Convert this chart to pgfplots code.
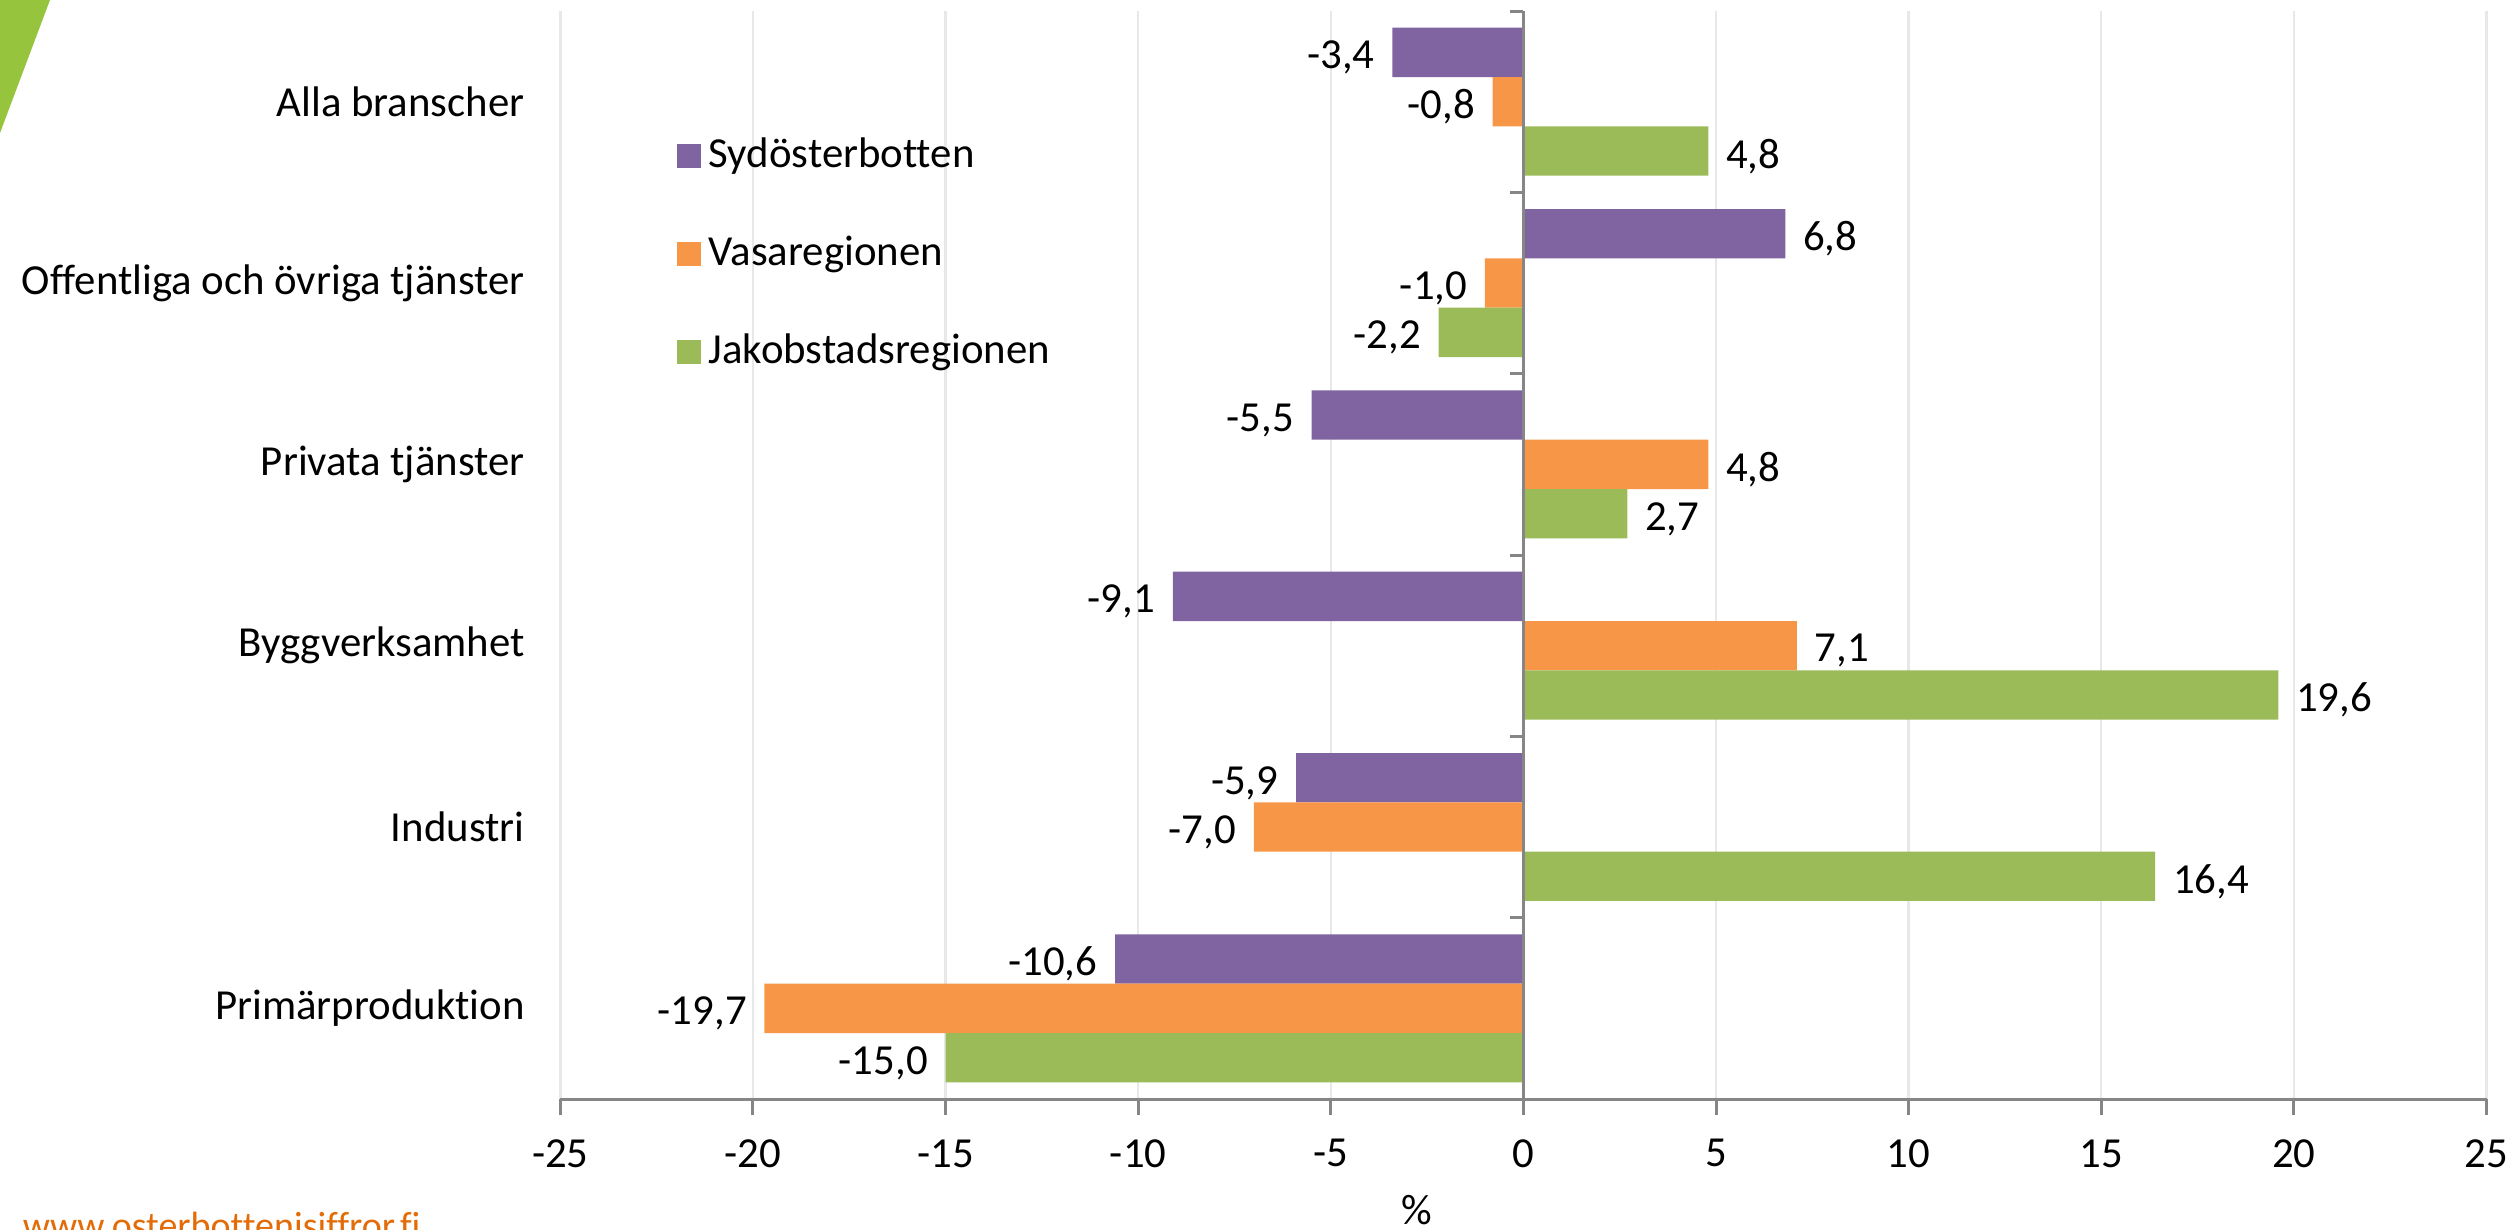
\documentclass[border=0pt]{standalone}
\usepackage{fontspec}
\setmainfont{Carlito}[Ligatures=NoCommon]
\usepackage{pgfplots}
\pgfplotsset{compat=1.18}
\definecolor{sydo}{RGB}{128,100,162}
\definecolor{vasa}{RGB}{247,150,70}
\definecolor{jakob}{RGB}{155,187,89}
\definecolor{axgray}{RGB}{134,134,134}
\definecolor{gridgray}{RGB}{232,232,232}
\definecolor{webor}{RGB}{227,108,9}
\definecolor{leaf}{RGB}{150,196,60}

\begin{document}
\fontsize{10.7}{12.8}\selectfont
\begin{tikzpicture}
\path[use as bounding box, clip] (0,0) rectangle (629.25pt,-307.5pt);
\fill[leaf] (0,0) -- (12.5pt,0) -- (0,-33.25pt) -- cycle;

\begin{axis}[
  at={(140.08pt,-274.75pt)}, anchor=south west,
  scale only axis, width=481.55pt, height=272pt,
  xmin=-25, xmax=25, ymin=-0.5, ymax=5.5,
  xbar, bar width=0.272,
  axis line style={draw=none},
  major tick length=0pt, tick style={draw=none},
  xtick={-25,-20,-15,-10,-5,0,5,10,15,20,25},
  ytick={0,1,2,3,4,5},
  yticklabels={Primärproduktion,Industri,Byggverksamhet,Privata tjänster,
    Offentliga och övriga tjänster,Alla branscher},
  xticklabel style={anchor=center, yshift=-13.6pt},
  yticklabel style={anchor=east, inner sep=0pt, xshift=-8.75pt},
  /pgf/number format/assume math mode=true,
  xmajorgrids, grid style={gridgray, line width=0.6pt},
  point meta=x,
  nodes near coords={\pgfmathprintnumber[fixed,fixed zerofill,precision=1,use comma,assume math mode=true]{\pgfplotspointmeta}},
  nodes near coords align={horizontal},
  every node near coord/.append style={text=black, inner xsep=4.25pt, inner ysep=0pt, yshift=-1.3pt},
  clip=false,
]
% Sydösterbotten
\addplot[draw=none, fill=sydo, bar shift=0.272] coordinates {
  (-3.4,5) (6.8,4) (-5.5,3) (-9.1,2) (-5.9,1) (-10.6,0)};
% Vasaregionen
\addplot[draw=none, fill=vasa, bar shift=0] coordinates {
  (-0.8,5) (-1.0,4) (4.8,3) (7.1,2) (-7.0,1) (-19.7,0)};
% Jakobstadsregionen
\addplot[draw=none, fill=jakob, bar shift=-0.272] coordinates {
  (4.8,5) (-2.2,4) (2.7,3) (19.6,2) (16.4,1) (-15.0,0)};

\draw[axgray, line width=0.75pt] (axis cs:-25,-0.5) -- (axis cs:25,-0.5);
\draw[axgray, line width=0.75pt] (axis cs:0,-0.5) -- (axis cs:0,5.5);
\pgfplotsinvokeforeach{-25,-20,-15,-10,-5,0,5,10,15,20,25}{
  \draw[axgray, line width=0.75pt] (axis cs:#1,-0.5) -- ([yshift=-4pt]axis cs:#1,-0.5);}
\pgfplotsinvokeforeach{-0.5,0.5,1.5,2.5,3.5,4.5,5.5}{
  \draw[axgray, line width=0.75pt] (axis cs:0,#1) -- ([xshift=-3.25pt]axis cs:0,#1);}
\end{axis}

% legend
\fill[sydo]  (169.25pt,-36pt)   rectangle ++(5.9pt,-5.9pt);
\fill[vasa]  (169.25pt,-60.5pt) rectangle ++(5.9pt,-5.9pt);
\fill[jakob] (169.25pt,-85pt)   rectangle ++(5.9pt,-5.9pt);
\node[anchor=base west, inner sep=0pt] at (177pt,-41.9pt) {Sydösterbotten};
\node[anchor=base west, inner sep=0pt] at (177pt,-66.4pt) {Vasaregionen};
\node[anchor=base west, inner sep=0pt] at (177pt,-90.9pt) {Jakobstadsregionen};

\node[anchor=base, inner sep=0pt] at (354.25pt,-306pt) {\%};
\node[anchor=base west, inner sep=0pt, text=webor, font=\fontsize{9.5}{11}\selectfont]
  at (5.5pt,-309.5pt) {www.osterbottenisiffror.fi};
\end{tikzpicture}
\end{document}
